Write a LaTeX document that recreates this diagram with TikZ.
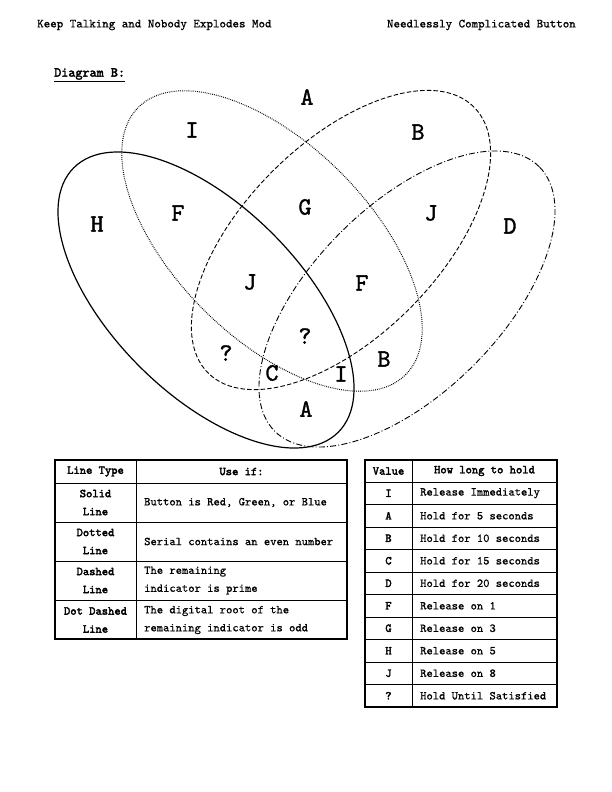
\documentclass[tikz,border=0pt]{standalone}
\usepackage{fontspec}
\newfontfamily\twr{lmmono10-regular.otf}[FakeBold=0.7]
\newfontfamily\twl{lmmono10-regular.otf}[FakeBold=1.3]
\newfontfamily\twb{lmmono10-regular.otf}[FakeBold=2.6]
\begin{document}
\begin{tikzpicture}[x=1pt,y=-1pt,font=\twr]
\tikzset{
  venn/.style={line width=0.9pt},
  solidl/.style={venn,line width=1.2pt},
  dottedl/.style={venn,line width=1pt,dash pattern=on 0.8pt off 1.1pt},
  dashedl/.style={venn,dash pattern=on 4.5pt off 2.2pt},
  dotdashl/.style={venn,dash pattern=on 6pt off 2.2pt on 1pt off 2.2pt},
  lab/.style={font=\fontsize{25}{25}\selectfont\twl,inner sep=0pt},
  hdr/.style={font=\fontsize{12.4}{14}\selectfont\twr,inner sep=0pt},
  cell/.style={font=\fontsize{12}{18}\selectfont\twr,inner sep=0pt,align=left,anchor=west},
  bcell/.style={font=\fontsize{12}{18}\selectfont\twb,inner sep=0pt,align=center},
  outer/.style={line width=1.6pt},
  inner/.style={line width=0.6pt}
}
\useasboundingbox[fill=white] (0,0) rectangle (612,792);
% headers
\node[hdr,anchor=west] (h1) at (37,25) {Keep Talking and Nobody Explodes Mod};
\node[hdr,anchor=east] (h2) at (576,25) {Needlessly Complicated Button};
\node[font=\fontsize{13.5}{14}\selectfont\twb,inner sep=0pt,anchor=west] (dg) at (54,75) {\underline{Diagram B:}};
% ellipses
\draw[solidl,rotate around={-45:(206,300)}] (206,300) ellipse [x radius=187pt,y radius=94pt];
\draw[dottedl,rotate around={-45:(272,241)}] (272,241) ellipse [x radius=189pt,y radius=97pt];
\draw[dashedl,rotate around={45:(341,240)}] (341,240) ellipse [x radius=188pt,y radius=97pt];
\draw[dotdashl,rotate around={45:(407,299)}] (407,299) ellipse [x radius=187pt,y radius=94pt];
% labels
\node[lab] (lA1) at (307,97) {A};
\node[lab] (lI1) at (192,130) {I};
\node[lab] (lB1) at (418,132) {B};
\node[lab] (lH) at (97,224) {H};
\node[lab] (lF1) at (178,213) {F};
\node[lab] (lG) at (305,207) {G};
\node[lab] (lJ1) at (431,213) {J};
\node[lab] (lD) at (510,226) {D};
\node[lab] (lJ2) at (250,282) {J};
\node[lab] (lF2) at (362,283) {F};
\node[lab] (lQ1) at (305,336) {?};
\node[lab] (lQ2) at (226,353) {?};
\node[lab] (lC) at (272,373) {C};
\node[lab] (lI2) at (341,374) {I};
\node[lab] (lB2) at (384,359) {B};
\node[lab] (lA2) at (306,409) {A};
% left table
\draw[inner] (55,483) -- (347,483);
\draw[inner] (55,522) -- (347,522);
\draw[inner] (55,561) -- (347,561);
\draw[inner] (55,600) -- (347,600);
\draw[inner] (136,460) -- (136,639);
\draw[outer] (55,460) rectangle (347,639);
\node[bcell] (lt0a) at (95.5,471.5) {Line Type};
\node[bcell] (lt0b) at (241.5,471.5) {Use if:};
\node[bcell] (lt1a) at (95.5,502.5) {Solid\\Line};
\node[cell] (lt1b) at (144,502.5) {Button is Red, Green, or Blue};
\node[bcell] (lt2a) at (95.5,541.5) {Dotted\\Line};
\node[cell] (lt2b) at (144,541.5) {Serial contains an even number};
\node[bcell] (lt3a) at (95.5,580.5) {Dashed\\Line};
\node[cell] (lt3b) at (144,580.5) {The remaining\\indicator is prime};
\node[bcell] (lt4a) at (95.5,620) {Dot Dashed\\Line};
\node[cell] (lt4b) at (144,620) {The digital root of the\\remaining indicator is odd};
% right table
\foreach \k in {1,...,9} {\draw[inner] (365,482+22.5*\k) -- (557,482+22.5*\k);}
\draw[inner] (365,482) -- (557,482);
\draw[inner] (412,460) -- (412,707);
\draw[outer,line width=1.2pt] (365,460) rectangle (557,707);
\node[bcell] (rt0a) at (388.5,471) {Value};
\node[bcell] (rt0b) at (484.5,471) {How long to hold};
\foreach \v/\t [count=\i from 0] in {I/Release Immediately,A/Hold for 5 seconds,B/Hold for 10 seconds,C/Hold for 15 seconds,D/Hold for 20 seconds,F/Release on 1,G/Release on 3,H/Release on 5,J/Release on 8,?/Hold Until Satisfied} {
  \node[bcell] (rv\i) at (388.5,493.25+22.5*\i) {\v};
  \node[cell] (rh\i) at (420,493.25+22.5*\i) {\t};
}
\end{tikzpicture}
\end{document}
